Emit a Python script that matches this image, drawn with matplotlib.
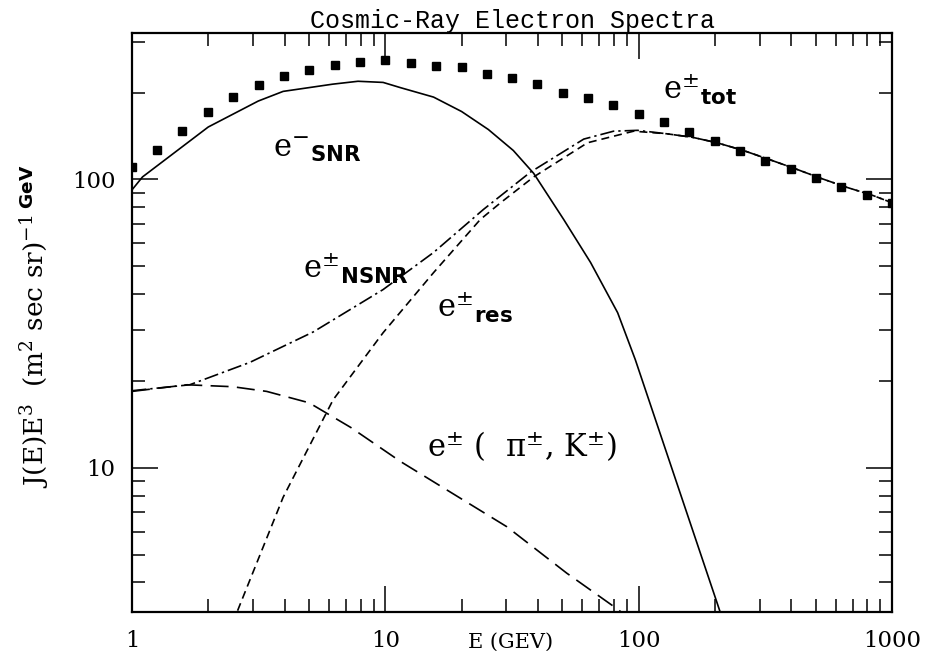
import matplotlib
matplotlib.use("agg")
import matplotlib.pyplot as plt
from matplotlib.ticker import FixedLocator, LogLocator, NullFormatter, FormatStrFormatter

# total e+- flux (squares), 0.1 decade grid
E_tot = [1.0, 1.26, 1.58, 2.0, 2.51, 3.16, 3.98, 5.01, 6.31, 7.94, 10.0,
         12.6, 15.8, 20.0, 25.1, 31.6, 39.8, 50.1, 63.1, 79.4, 100.0,
         126.0, 158.0, 200.0, 251.0, 316.0, 398.0, 501.0, 631.0, 794.0, 1000.0]
J_tot = [110, 126, 147, 171, 193, 212, 228, 239, 249, 255, 259,
         253, 247, 245, 232, 224, 214, 199, 191, 181, 169,
         158, 146, 136, 125, 116, 109, 101, 93.8, 88, 83]

# e- from SNR (solid)
E_snr = [1.0, 1.1, 2.0, 3.15, 3.95, 6.2, 7.8, 9.8, 11.5, 15.5, 20.0, 25.5,
         32.0, 38.5, 50.6, 64.6, 82.6, 97.0, 207.0, 230.0]
J_snr = [92, 102, 152, 187, 202, 214, 219, 217, 208, 193, 172, 149,
         126, 105, 72.6, 51.5, 34.5, 23.7, 3.27, 2.48]

# e+- from nearby SNR (dash-dot)
E_nsnr = [1.0, 1.69, 2.92, 5.2, 9.8, 15.5, 24.4, 37.4, 60.7, 79.6, 99.0,
          129.0, 163.0, 204.0, 259.0, 330.0, 414.0, 522.0, 660.0, 840.0, 1000.0]
J_nsnr = [18.5, 19.4, 23.2, 29.6, 41.5, 55.8, 78.7, 106, 138, 147, 148,
          144, 140, 134, 126, 117, 109, 101, 94, 88, 83]

# e+- residual (short dash)
E_res = [2.5, 2.65, 3.95, 6.22, 9.8, 15.5, 23.7, 28.5, 38.5, 62.8, 95.5,
         129.0, 163.0, 204.0, 259.0, 330.0, 414.0, 522.0, 660.0, 840.0, 1000.0]
J_res = [2.9, 3.3, 7.9, 17.2, 29.4, 47.5, 72.6, 83, 102, 134, 147,
         144, 140, 134, 126, 117, 109, 101, 94, 88, 83]

# secondary e+- from pi, K (long dash)
E_pik = [1.0, 1.65, 2.5, 3.4, 5.0, 7.3, 11.5, 30.2, 52.0, 81.0, 90.0]
J_pik = [18.4, 19.4, 19.1, 18.4, 16.8, 13.8, 10.5, 6.24, 4.31, 3.27, 3.05]

x_ticks = [1, 10, 100, 1000]
y_ticks = [10, 100]

plt.rcParams.update({
    "font.family": "DejaVu Serif",
    "mathtext.fontset": "custom",
    "mathtext.rm": "DejaVu Serif",
    "mathtext.it": "DejaVu Serif:italic",
    "mathtext.bf": "DejaVu Sans:bold",
    "mathtext.sf": "DejaVu Sans",
})

fig = plt.figure(figsize=(9.31, 6.51), dpi=100)
ax = fig.add_axes([132 / 931, 1 - 612 / 651, 760 / 931, 579 / 651])
ax.set_xscale("log")
ax.set_yscale("log")
ax.set_xlim(1, 1000)
ax.set_ylim(3.16, 322)

lw = 1.2
ax.plot(E_snr, J_snr, color="black", lw=lw)
ax.plot(E_nsnr, J_nsnr, color="black", lw=lw, dashes=(8.6, 2.4, 1.4, 2.4))
ax.plot(E_res, J_res, color="black", lw=lw, dashes=(4.8, 3.0))
ax.plot(E_pik, J_pik, color="black", lw=lw, dashes=(10.8, 5.0))
ax.plot(E_tot, J_tot, ls="none", marker="s", ms=5.5, color="black")

for s in ax.spines.values():
    s.set_linewidth(1.6)

ax.xaxis.set_major_locator(FixedLocator(x_ticks))
ax.yaxis.set_major_locator(FixedLocator(y_ticks))
ax.xaxis.set_minor_locator(LogLocator(base=10, subs=range(2, 10)))
ax.yaxis.set_minor_locator(LogLocator(base=10, subs=range(2, 10)))
ax.xaxis.set_major_formatter(FormatStrFormatter("%g"))
ax.yaxis.set_major_formatter(FormatStrFormatter("%g"))
ax.xaxis.set_minor_formatter(NullFormatter())
ax.yaxis.set_minor_formatter(NullFormatter())
ax.tick_params(which="both", direction="in", top=True, right=True,
               width=1.1, labelsize=16.5)
ax.tick_params(axis="x", pad=13)
ax.tick_params(axis="y", pad=12)
ax.tick_params(which="major", length=19)
ax.tick_params(which="minor", length=9.5)

ax.set_title("Cosmic-Ray Electron Spectra", fontfamily="Liberation Mono",
             fontsize=18, pad=1)
fig.text(511 / 931, 9 / 651, "E (GEV)", ha="center", va="center", fontsize=15)
fig.text(35 / 931, 325 / 651,
         r"J(E)E$^3$  (m$^2$ sec sr)$^{-1\ \mathbf{GeV}}$",
         rotation=90, ha="center", va="center", fontsize=19)

fs = 22
ax.text(3.6, 120, r"e$^{-}{}_{\mathbf{SNR}}$", fontsize=fs, va="baseline")
ax.text(125, 190, r"e$^{\pm}{}_{\mathbf{tot}}$", fontsize=fs, va="baseline")
ax.text(4.73, 45.7, r"e$^{\pm}{}_{\mathbf{NSNR}}$", fontsize=fs, va="baseline")
ax.text(16.0, 33.4, r"e$^{\pm}{}_{\mathbf{res}}$", fontsize=fs, va="baseline")
ax.text(14.6, 10.9, r"e$^{\pm}$ (  $\mathrm{\pi}^{\pm}$, K$^{\pm}$)",
        fontsize=fs, va="baseline")

plt.savefig("out.png", dpi=100)
